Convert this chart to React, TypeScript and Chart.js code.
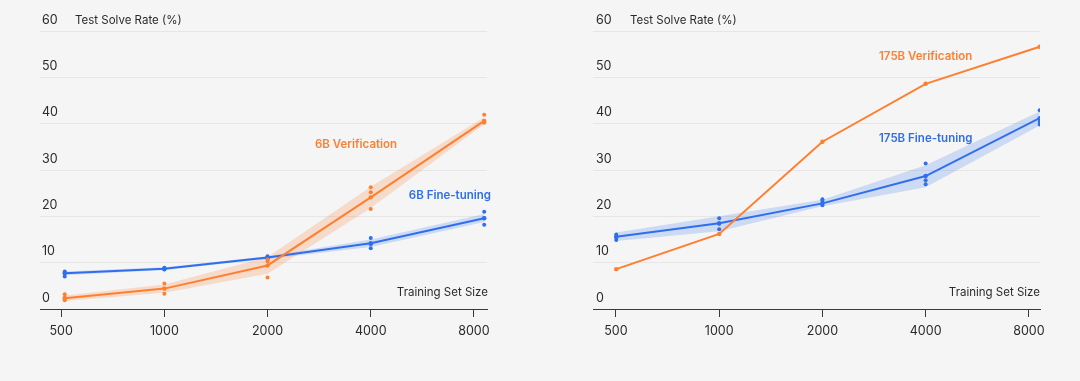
import React, { useEffect, useRef } from "react";
import { Chart, registerables } from "chart.js";
Chart.register(...registerables);

const FONT = "Inter, 'Noto Sans', sans-serif";
const ORANGE = "#FF7F30";
const BLUE = "#2F6FEB";
const ORANGE_BAND = "rgba(255,127,48,0.22)";
const BLUE_BAND = "rgba(47,111,235,0.2)";
const TEXT = "#2b2b2b";
const GRID = "#e6e6e6";
const AXIS = "#3a3a3a";
const BG = "#f5f5f5";

const xTickValues = [500, 1000, 2000, 4000, 8000];
const yTickValues = [0, 10, 20, 30, 40, 50, 60];

// Left panel: 6B
const sizes6B = [512, 1000, 2000, 4000, 8572];
const ft6BMean = [7.7, 8.7, 11.1, 14.2, 19.6];
const ft6BLow = [7.3, 8.4, 10.8, 13.4, 18.8];
const ft6BHigh = [8.1, 9.0, 11.4, 15.0, 20.5];
const ft6BRunA = [8.1, 8.9, 11.4, 15.3, 21.0];
const ft6BRunB = [7.8, 8.6, 11.0, 14.0, 19.6];
const ft6BRunC = [7.0, 8.5, 10.8, 13.1, 18.2];
const ver6BMean = [2.3, 4.4, 9.4, 24.1, 40.6];
const ver6BLow = [1.7, 3.5, 7.6, 21.8, 39.9];
const ver6BHigh = [2.9, 5.3, 11.2, 26.4, 41.4];
const ver6BRunA = [3.2, 5.5, 10.7, 26.3, 41.9];
const ver6BRunB = [2.5, 4.4, 10.3, 25.2, 40.6];
const ver6BRunC = [1.9, 3.3, 6.8, 21.6, 40.2];

// Right panel: 175B
const sizes175B = [501, 1000, 2000, 4000, 8600];
const ft175BMean = [15.6, 18.5, 22.8, 28.7, 41.2];
const ft175BLow = [14.7, 16.8, 22.2, 26.3, 39.6];
const ft175BHigh = [16.5, 20.0, 23.6, 31.0, 42.6];
const ft175BRunA = [16.1, 19.6, 23.7, 31.4, 42.9];
const ft175BRunB = [15.5, 18.4, 23.3, 27.8, 40.4];
const ft175BRunC = [14.9, 17.2, 22.4, 26.9, 39.8];
const ver175B = [8.6, 16.2, 36.1, 48.6, 56.6];

const pts = (xs: number[], ys: number[]) => xs.map((x, i) => ({ x, y: ys[i] }));

function band(xs: number[], low: number[], high: number[], color: string) {
  return [
    { type: "line", data: pts(xs, low), borderWidth: 0, pointRadius: 0, fill: false, order: 10, tension: 0 },
    { type: "line", data: pts(xs, high), borderWidth: 0, pointRadius: 0, fill: "-1", backgroundColor: color, order: 10, tension: 0 },
  ];
}
function meanLine(xs: number[], ys: number[], color: string, order = 5) {
  return {
    type: "line", data: pts(xs, ys), borderColor: color, borderWidth: 2,
    pointRadius: 2.2, pointBackgroundColor: color, pointBorderWidth: 0, fill: false, tension: 0, order,
  };
}
function runs(xs: number[], runsList: number[][], color: string) {
  const data: { x: number; y: number }[] = [];
  runsList.forEach((r) => r.forEach((y, i) => data.push({ x: xs[i], y })));
  return {
    type: "scatter", data, pointRadius: 2, pointBackgroundColor: color, pointBorderWidth: 0, order: 1, showLine: false,
  };
}

type PanelProps = {
  datasets: any[];
  xMin: number;
  xMax: number;
  padLeft: number;
  padRight: number;
  yLabelPad: number;
};

function Panel({ datasets, xMin, xMax, padLeft, padRight, yLabelPad }: PanelProps) {
  const ref = useRef<HTMLCanvasElement>(null);
  useEffect(() => {
    const chart = new Chart(ref.current!, {
      type: "line",
      data: { datasets },
      options: {
        animation: false,
        responsive: false,
        maintainAspectRatio: false,
        layout: { padding: { top: 31, left: padLeft, right: padRight, bottom: 0 } },
        plugins: { legend: { display: false }, tooltip: { enabled: false } },
        scales: {
          x: {
            type: "logarithmic",
            min: xMin,
            max: xMax,
            afterBuildTicks: (axis: any) => {
              axis.ticks = xTickValues.map((v) => ({ value: v }));
            },
            afterFit: (axis: any) => {
              axis.height = 72;
            },
            grid: { drawOnChartArea: false, drawTicks: true, tickLength: 8, color: AXIS, lineWidth: 1 },
            border: { display: true, color: AXIS, width: 1 },
            ticks: {
              autoSkip: false,
              maxRotation: 0,
              padding: 7,
              color: TEXT,
              font: { family: FONT, size: 12.5 },
              callback: (v: any) => String(v),
            },
          },
          y: {
            type: "linear",
            min: 0,
            max: 60,
            afterBuildTicks: (axis: any) => {
              axis.ticks = yTickValues.map((v) => ({ value: v }));
            },
            afterFit: (axis: any) => {
              axis.width = 0;
            },
            grid: { drawTicks: false, color: GRID, lineWidth: 1 },
            border: { display: false },
            ticks: {
              mirror: true,
              labelOffset: -11,
              padding: yLabelPad,
              color: TEXT,
              font: { family: FONT, size: 12.5 },
            },
          },
        },
      } as any,
    });
    return () => chart.destroy();
  }, []);
  return <canvas ref={ref} width={540} height={381} style={{ position: "absolute", left: 0, top: 0 }} />;
}

type LabelProps = { x: number; y: number; text: string; color?: string; bold?: boolean; anchor?: "left" | "right" };
function Label({ x, y, text, color = TEXT, bold = false, anchor = "left" }: LabelProps) {
  return (
    <div
      style={{
        position: "absolute",
        left: x,
        top: y,
        transform: anchor === "right" ? "translate(-100%, -50%)" : "translateY(-50%)",
        font: `${bold ? 600 : 400} 11.5px ${FONT}`,
        color,
        whiteSpace: "nowrap",
        lineHeight: "16px",
      }}
    >
      {text}
    </div>
  );
}

const leftDatasets = [
  runs(sizes6B, [ver6BRunA, ver6BRunB, ver6BRunC], ORANGE),
  runs(sizes6B, [ft6BRunA, ft6BRunB, ft6BRunC], BLUE),
  meanLine(sizes6B, ver6BMean, ORANGE, 4),
  meanLine(sizes6B, ft6BMean, BLUE, 5),
  ...band(sizes6B, ver6BLow, ver6BHigh, ORANGE_BAND),
  ...band(sizes6B, ft6BLow, ft6BHigh, BLUE_BAND),
];

const rightDatasets = [
  runs(sizes175B, [ft175BRunA, ft175BRunB, ft175BRunC], BLUE),
  meanLine(sizes175B, ver175B, ORANGE, 4),
  meanLine(sizes175B, ft175BMean, BLUE, 5),
  ...band(sizes175B, ft175BLow, ft175BHigh, BLUE_BAND),
];

export default function App() {
  return (
    <div style={{ position: "fixed", inset: 0, background: BG, overflow: "hidden" }}>
      <div style={{ position: "absolute", left: 0, top: 0, width: 540, height: 381 }}>
        <Panel datasets={leftDatasets} xMin={433.6} xMax={8734} padLeft={40} padRight={53} yLabelPad={2} />
        <Label x={75} y={20} text="Test Solve Rate (%)" />
        <Label x={488} y={292} text="Training Set Size" anchor="right" />
        <Label x={315} y={144} text="6B Verification" color={ORANGE} bold />
        <Label x={491} y={195} text="6B Fine-tuning" color={BLUE} bold anchor="right" />
      </div>
      <div style={{ position: "absolute", left: 540, top: 0, width: 540, height: 381 }}>
        <Panel datasets={rightDatasets} xMin={428.6} xMax={8620} padLeft={53} padRight={40} yLabelPad={3} />
        <Label x={90} y={20} text="Test Solve Rate (%)" />
        <Label x={500} y={292} text="Training Set Size" anchor="right" />
        <Label x={339} y={56} text="175B Verification" color={ORANGE} bold />
        <Label x={339} y={138} text="175B Fine-tuning" color={BLUE} bold />
      </div>
    </div>
  );
}
